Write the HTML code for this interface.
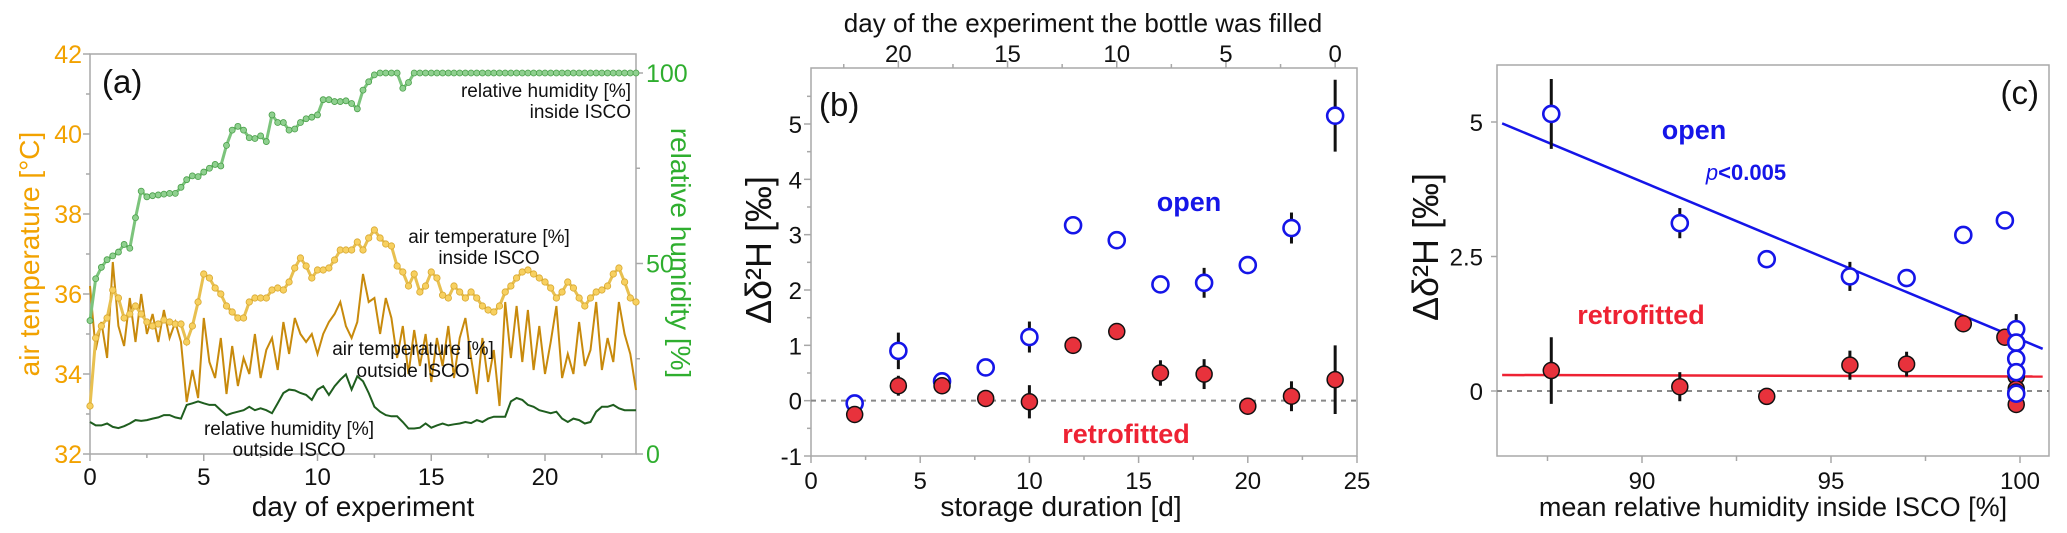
<!DOCTYPE html>
<html><head><meta charset="utf-8"><title>Storage experiment figure</title>
<style>
html,body{margin:0;padding:0;background:#fff;}
svg{display:block;font-family:"Liberation Sans","DejaVu Sans",sans-serif;}
</style></head>
<body>
<svg id="fig" width="2067" height="533" viewBox="0 0 2067 533" xmlns="http://www.w3.org/2000/svg"></svg>
<script>
// ---------- Panel (a) data (sampled every 0.25 day, day 0..24) ----------
const sampleStep = 0.25;
const rhInside = [35,46,49,51,52,53,55,54,62,69,67.5,67.8,68,68.2,68.4,68.4,70,72,73,72.8,74,75,76,75.6,81,85,86,85,83,82.8,83.5,82,89,87,87,85,85.3,87,88,88.4,89,93,93,92.5,92.5,92.7,92,90.6,95.5,97.7,99.5,100,100,100,100,96,97.5,100,100,100,100,100,100,100,100,100,100,100,100,100,100,100,100,100,100,100,100,100,100,100,100,100,100,100,100,100,100,100,100,100,100,100,100,100,100,100,100];
const tempInside = [33.2,34.9,35.2,35.4,36.1,35.9,35.4,35.5,35.7,35.5,35.3,35.2,35.25,35.35,35.3,35.25,35.25,34.8,35.2,35.8,36.5,36.4,36.15,36.0,35.7,35.55,35.4,35.4,35.8,35.9,35.9,35.9,36.1,36.15,36.1,36.3,36.65,36.9,36.7,36.4,36.6,36.6,36.65,36.85,37.1,37.1,37.1,37.3,37.1,37.4,37.6,37.4,37.25,37.2,36.7,36.55,36.2,36.5,36.05,36.2,36.55,36.4,35.97,35.9,36.2,36.05,35.9,36.05,35.9,35.7,35.6,35.55,35.7,36.05,36.2,36.4,36.55,36.6,36.5,36.4,36.3,36.15,35.9,36.05,36.3,36.15,35.9,35.7,35.9,36.05,36.1,36.2,36.5,36.65,36.3,35.9,35.8];
const tempOutside = [36.2,34.6,35.3,34.4,36.8,35.2,34.7,35.9,34.8,36.0,35.0,35.5,34.8,35.6,34.9,35.3,34.8,33.3,34.1,33.4,35.4,34.3,33.9,34.9,33.5,34.7,33.7,34.4,34.0,35.0,33.9,34.6,34.9,34.1,35.3,34.5,35.4,35.0,34.8,35.0,34.5,35.0,35.3,35.5,35.8,35.2,34.9,35.3,36.5,35.8,35.9,35.0,35.9,35.4,34.4,35.2,34.0,35.1,34.2,35.0,33.8,34.9,34.2,35.2,33.9,34.9,35.4,34.4,33.5,34.9,33.8,34.6,33.2,35.8,34.4,35.7,34.3,35.6,34.1,35.2,34.0,34.8,35.7,33.9,34.5,34.0,35.3,34.2,34.6,35.8,34.1,34.9,34.3,35.8,35.0,34.5,33.6];
const rhOutside = [8.4,7.5,7.5,8,7.1,6.8,7.3,8,8.9,8.7,8.9,9.3,9.6,10.2,10.2,9.6,9.3,12.9,13.3,13.8,13.3,12.9,12.9,11.5,10.2,10.7,11.1,11.5,12.4,11.5,12,11.5,10.7,13.3,16,16.9,16.7,16,15.5,14.2,16.9,17.8,15.5,17.8,19.5,20.9,16.9,20.4,19.1,16,12.4,11.1,10.2,9.9,9.9,8.4,6.7,6.7,6.9,8,6.9,7.5,8,7.5,7.8,8,8.4,8.1,8.9,8.4,9.3,9.8,9.8,9.8,13.8,14.7,14.2,12.9,12.4,11.5,11.1,10.7,11.1,9.3,8.4,9.3,8.9,8,8.4,11.1,12.4,12.4,12.9,12,11.5,11.5,11.5];
const aXTicks = [0,5,10,15,20];
const aTempTicks = [32,34,36,38,40,42];
const aRHTicks = [0,50,100];

// ---------- Panel (b) data ----------
const storageDays = [2,4,6,8,10,12,14,16,18,20,22,24];
const openVals = [-0.05,0.9,0.35,0.6,1.15,3.17,2.9,2.1,2.13,2.45,3.12,5.15];
const openErr  = [0,0.33,0.15,0,0.28,0,0,0,0.27,0,0.28,0.65];
const retroVals = [-0.25,0.27,0.27,0.04,-0.02,1.0,1.25,0.5,0.48,-0.1,0.08,0.38];
const retroErr  = [0,0.18,0.15,0,0.3,0,0,0.23,0.27,0,0.27,0.62];
const bXTicks = [0,5,10,15,20,25];
const bTopTicks = [0,5,10,15,20];
const bYTicks = [-1,0,1,2,3,4,5];

// ---------- Panel (c) data ----------
const cOpenRH = [87.6,91.0,93.3,95.5,97.0,98.5,99.6,99.9,99.9,99.9,99.9,99.9];
const cOpenVals = [5.15,3.12,2.45,2.13,2.1,2.9,3.17,1.15,0.9,0.6,0.35,-0.05];
const cOpenErr = [0.65,0.28,0,0.27,0,0,0,0.28,0.33,0,0.15,0];
const cRetroRH = [87.6,91.0,93.3,95.5,97.0,98.5,99.6,99.9,99.9,99.9,99.9,99.9];
const cRetroVals = [0.38,0.08,-0.1,0.48,0.5,1.25,1.0,0.27,0.27,0.04,-0.02,-0.25];
const cRetroErr = [0.62,0.27,0,0.27,0.23,0,0,0.18,0.15,0,0.3,0];
const openFit = [-0.293, 30.26];   // slope, intercept
const retroFit = [-0.002, 0.47];
const cXTicks = [90,95,100];
const cYTicks = [0,2.5,5];

const NS = "http://www.w3.org/2000/svg";
const svg = document.getElementById("fig");
function el(tag, attrs, parent){
  const e = document.createElementNS(NS, tag);
  for (const k in attrs) e.setAttribute(k, attrs[k]);
  (parent || svg).appendChild(e);
  return e;
}
function txt(s, attrs, parent){ const e = el("text", attrs, parent); e.textContent = s; return e; }
const AX = "#a8a8a8";

// ================= PANEL A =================
const gA = el("g", {});


const aL = 90, aR = 636, aT = 54, aB = 454;
const ax = d => aL + d * (aR - aL) / 24;
const ayT = v => aB - (v - 32) * (aB - aT) / 10;
const ayH = v => aB - v * (aB - 73) / 100;
const frameA = el("rect", {x:aL, y:aT, width:aR-aL, height:aB-aT, fill:"none", stroke:AX, "stroke-width":1.5}, gA);


for (let d = 0; d <= 22.5; d += 2.5) {
  const tk = el("line", {x1:ax(d), x2:ax(d), y1:aB, y2:aB + (d % 5 === 0 ? 7 : 4), stroke:AX, "stroke-width":1.5}, gA);
  
  
}
aXTicks.forEach(d => {
  const t = txt(String(d), {x:ax(d), y:485, "text-anchor":"middle", "font-size":24, fill:"#111"}, gA);
  
  
});
for (let v = 32; v <= 42; v += 1) {
  const tk = el("line", {x1:aL - (v % 2 === 0 ? 7 : 4), x2:aL, y1:ayT(v), y2:ayT(v), stroke:AX, "stroke-width":1.5}, gA);
  
  
}
aTempTicks.forEach(v => {
  const t = txt(String(v), {x:82, y:ayT(v) + 9, "text-anchor":"end", "font-size":25, fill:"#f2a200"}, gA);
  
  
});
for (let v = 0; v <= 100; v += 25) {
  const tk = el("line", {x1:aR, x2:aR + (v % 50 === 0 ? 7 : 4), y1:ayH(v), y2:ayH(v), stroke:AX, "stroke-width":1.5}, gA);
  
  
}
aRHTicks.forEach(v => {
  const t = txt(String(v), {x:646, y:ayH(v) + 9, "text-anchor":"start", "font-size":25, fill:"#2fae2f"}, gA);
  
  
});
const axTitleA = txt("day of experiment", {x:363, y:516, "text-anchor":"middle", "font-size":28, fill:"#111"}, gA);


const yTitleA = txt("air temperature [°C]", {x:0, y:0, "text-anchor":"middle", "font-size":28, fill:"#f2a200", transform:"translate(39,254) rotate(-90)"}, gA);


const yTitleA2 = txt("relative humidity [%]", {x:0, y:0, "text-anchor":"middle", "font-size":28, fill:"#2fae2f", transform:"translate(671,253) rotate(90)"}, gA);



function linePts(arr, yf){ return arr.map((v,i) => ax(i*sampleStep).toFixed(1) + "," + yf(v).toFixed(1)).join(" "); }
const rhOutLine = el("polyline", {points:linePts(rhOutside, ayH), fill:"none", stroke:"#1f5e1f", "stroke-width":2}, gA);


const tOutLine = el("polyline", {points:linePts(tempOutside, ayT), fill:"none", stroke:"#c88a0c", "stroke-width":2}, gA);


const tInLine = el("polyline", {points:linePts(tempInside, ayT), fill:"none", stroke:"#e8c050", "stroke-width":3}, gA);


tempInside.forEach((v,i) => {
  const c = el("circle", {cx:ax(i*sampleStep), cy:ayT(v), r:3.2, fill:"#f7d060", stroke:"#d8a830", "stroke-width":0.8}, gA);
  
  
});
const rhInLine = el("polyline", {points:linePts(rhInside, ayH), fill:"none", stroke:"#7cc47c", "stroke-width":3}, gA);


rhInside.forEach((v,i) => {
  const c = el("circle", {cx:ax(i*sampleStep), cy:ayH(v), r:3, fill:"#8fd08f", stroke:"#4aa04a", "stroke-width":0.8}, gA);
  
  
});
const labA = txt("(a)", {x:102, y:93, "font-size":33, fill:"#111"}, gA);


[["relative humidity [%]",631,97,"end","rh-inside-label-1"],["inside ISCO",631,118,"end","rh-inside-label-2"],
 ["air temperature [%]",489,243,"middle","temp-inside-label-1"],["inside ISCO",489,264,"middle","temp-inside-label-2"],
 ["air temperature [%]",413,355,"middle","temp-outside-label-1"],["outside ISCO",413,377,"middle","temp-outside-label-2"],
 ["relative humidity [%]",289,435,"middle","rh-outside-label-1"],["outside ISCO",289,456,"middle","rh-outside-label-2"]].forEach(a => {
  const t = txt(a[0], {x:a[1], y:a[2], "text-anchor":a[3], "font-size":19, fill:"#111"}, gA);
  
  
});

// ================= PANEL B =================
const gB = el("g", {});


const bL = 811, bR = 1357, bT = 68, bB = 456;
const bx = d => bL + d * (bR - bL) / 25;
const by = v => bB - (v + 1) * (bB - 124) / 6;
const frameB = el("rect", {x:bL, y:bT, width:bR-bL, height:bB-bT, fill:"none", stroke:AX, "stroke-width":1.5}, gB);


for (let d = 0; d <= 25; d += 2.5) {
  const tk = el("line", {x1:bx(d), x2:bx(d), y1:bB, y2:bB + (d % 5 === 0 ? 7 : 4), stroke:AX, "stroke-width":1.5}, gB);
  
  
}
for (let v = 0; v <= 22.5; v += 2.5) {
  const tt = el("line", {x1:bx(24 - v), x2:bx(24 - v), y1:bT, y2:bT - (v % 5 === 0 ? 7 : 4), stroke:AX, "stroke-width":1.5}, gB);
  
  
}
bXTicks.forEach(d => {
  const t = txt(String(d), {x:bx(d), y:489, "text-anchor":"middle", "font-size":24, fill:"#111"}, gB);
  
  
});
bTopTicks.forEach(d => {
  const t = txt(String(d), {x:bx(24 - d), y:62, "text-anchor":"middle", "font-size":24, fill:"#111"}, gB);
  
  
});
for (let v = -1; v <= 5.5; v += 0.5) {
  const tk = el("line", {x1:bL - (Number.isInteger(v) ? 7 : 4), x2:bL, y1:by(v), y2:by(v), stroke:AX, "stroke-width":1.5}, gB);
  
  
}
bYTicks.forEach(v => {
  const t = txt(String(v), {x:802, y:by(v) + 9, "text-anchor":"end", "font-size":24, fill:"#111"}, gB);
  
  
});
const zeroB = el("line", {x1:bL, x2:bR, y1:by(0), y2:by(0), stroke:"#888", "stroke-width":2, "stroke-dasharray":"5,5"}, gB);


const topTitle = txt("day of the experiment the bottle was filled", {x:1083, y:32, "text-anchor":"middle", "font-size":26, fill:"#111"}, gB);


const xTitleB = txt("storage duration [d]", {x:1061, y:516, "text-anchor":"middle", "font-size":28, fill:"#111"}, gB);


const yTitleB = txt("Δδ²H [‰]", {x:0, y:0, "text-anchor":"middle", "font-size":36, fill:"#111", transform:"translate(771,250) rotate(-90)"}, gB);


function errBar(g, x, y, e, yf){
  const l = el("line", {x1:x, x2:x, y1:yf(y - e), y2:yf(y + e), stroke:"#111", "stroke-width":3}, g);
  return l;
}
storageDays.forEach((d,i) => {
  if (retroErr[i] > 0) { const e = errBar(gB, bx(d), retroVals[i], retroErr[i], by);   }
  if (openErr[i] > 0) { const e = errBar(gB, bx(d), openVals[i], openErr[i], by);   }
});
storageDays.forEach((d,i) => {
  const c = el("circle", {cx:bx(d), cy:by(openVals[i]), r:8, fill:"#fff", stroke:"#1515e8", "stroke-width":2.6}, gB);
  
  
});
storageDays.forEach((d,i) => {
  const c = el("circle", {cx:bx(d), cy:by(retroVals[i]), r:8, fill:"#e8323c", stroke:"#111", "stroke-width":1.5}, gB);
  
  
});
const labB = txt("(b)", {x:819, y:116, "font-size":33, fill:"#111"}, gB);


const openB = txt("open", {x:1189, y:211, "text-anchor":"middle", "font-size":27, "font-weight":"bold", fill:"#1515e8"}, gB);


const retroB = txt("retrofitted", {x:1126, y:443, "text-anchor":"middle", "font-size":27, "font-weight":"bold", fill:"#ee2233"}, gB);



// ================= PANEL C =================
const gC = el("g", {});


const cL = 1497, cR = 2049, cT = 65, cB = 456;
const cx = v => 1642 + (v - 90) * (2020 - 1642) / 10;
const cy = v => 391 - v * (391 - 122) / 5;
const frameC = el("rect", {x:cL, y:cT, width:cR-cL, height:cB-cT, fill:"none", stroke:AX, "stroke-width":1.5}, gC);


for (let v = 87.5; v <= 100; v += 2.5) {
  const tk = el("line", {x1:cx(v), x2:cx(v), y1:cB, y2:cB + (v % 5 === 0 ? 7 : 5), stroke:AX, "stroke-width":1.5}, gC);
  
  
}
cXTicks.forEach(v => {
  const t = txt(String(v), {x:cx(v), y:489, "text-anchor":"middle", "font-size":24, fill:"#111"}, gC);
  
  
});
cYTicks.forEach(v => {
  const tk = el("line", {x1:cL - 6, x2:cL, y1:cy(v), y2:cy(v), stroke:AX, "stroke-width":1.5}, gC);
  
  
  const t = txt(String(v), {x:1483, y:cy(v) + 9, "text-anchor":"end", "font-size":24, fill:"#111"}, gC);
  
  
});
const zeroC = el("line", {x1:cL, x2:cR, y1:cy(0), y2:cy(0), stroke:"#888", "stroke-width":2, "stroke-dasharray":"5,5"}, gC);


const xTitleC = txt("mean relative humidity inside ISCO [%]", {x:1773, y:516, "text-anchor":"middle", "font-size":27, fill:"#111"}, gC);


const yTitleC = txt("Δδ²H [‰]", {x:0, y:0, "text-anchor":"middle", "font-size":36, fill:"#111", transform:"translate(1438,247) rotate(-90)"}, gC);


const fx0 = 86.3, fx1 = 100.6;
const fitO = el("line", {x1:cx(fx0), x2:cx(fx1), y1:cy(openFit[0]*fx0+openFit[1]), y2:cy(openFit[0]*fx1+openFit[1]), stroke:"#1515e8", "stroke-width":2.5}, gC);


const fitR = el("line", {x1:cx(fx0), x2:cx(fx1), y1:cy(retroFit[0]*fx0+retroFit[1]), y2:cy(retroFit[0]*fx1+retroFit[1]), stroke:"#ee2233", "stroke-width":2.5}, gC);


cRetroRH.forEach((h,i) => {
  if (cRetroErr[i] > 0) { const e = errBar(gC, cx(h), cRetroVals[i], cRetroErr[i], cy);   }
});
cOpenRH.forEach((h,i) => {
  if (cOpenErr[i] > 0) { const e = errBar(gC, cx(h), cOpenVals[i], cOpenErr[i], cy);   }
});
cRetroRH.forEach((h,i) => {
  const c = el("circle", {cx:cx(h), cy:cy(cRetroVals[i]), r:8, fill:"#e8323c", stroke:"#111", "stroke-width":1.5}, gC);
  
  
});
cOpenRH.forEach((h,i) => {
  const c = el("circle", {cx:cx(h), cy:cy(cOpenVals[i]), r:8, fill:"#fff", stroke:"#1515e8", "stroke-width":2.6}, gC);
  
  
});
const labC = txt("(c)", {x:2039, y:104, "text-anchor":"end", "font-size":33, fill:"#111"}, gC);


const openC = txt("open", {x:1694, y:139, "text-anchor":"middle", "font-size":27, "font-weight":"bold", fill:"#1515e8"}, gC);


const pC = el("text", {x:1746, y:180, "text-anchor":"middle", "font-size":22, "font-weight":"bold", fill:"#1515e8"}, gC);


const pIt = el("tspan", {"font-style":"italic", "font-weight":"normal"}, pC); pIt.textContent = "p";
const pRest = el("tspan", {}, pC); pRest.textContent = "<0.005";
const retroC = txt("retrofitted", {x:1641, y:324, "text-anchor":"middle", "font-size":27, "font-weight":"bold", fill:"#ee2233"}, gC);


</script>
</body></html>
